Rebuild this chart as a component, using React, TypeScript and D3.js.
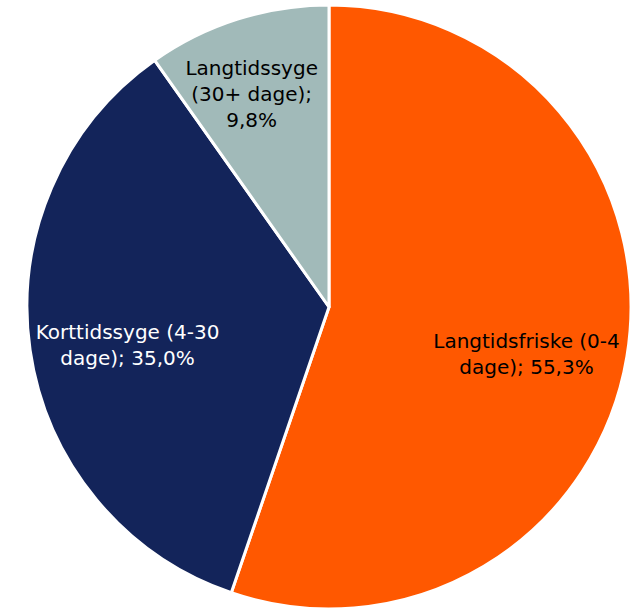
import React from 'react';
import * as d3 from 'd3';

const categories = ['Langtidsfriske (0-4 dage)', 'Korttidssyge (4-30 dage)', 'Langtidssyge (30+ dage)'];
const values = [55.3, 35.0, 9.8];
const labelLines = [
  ['Langtidsfriske (0-4', 'dage); 55,3%'],
  ['Korttidssyge (4-30', 'dage); 35,0%'],
  ['Langtidssyge', '(30+ dage);', '9,8%'],
];
const colors = ['#FF5800', '#13245A', '#A1BAB9'];
const textColors = ['#000000', '#FFFFFF', '#000000'];

// label placement tweaks (radius, angle shift in degrees), like Excel's best-fit
const labelRadius = [203, 205, 227];
const labelShift = [3.9, -2.5, -2.3];

const width = 641;
const height = 610;
const cx = 329;
const cy = 307;
const radius = 302;

export default function App() {
  const pie = d3.pie<number>().sort(null).value((d) => d);
  const arcs = pie(values);
  const arc = d3.arc<d3.PieArcDatum<number>>().innerRadius(0).outerRadius(radius);
  const lineH = 26;

  return (
    <svg width={width} height={height} style={{ position: 'absolute', left: 0, top: 0 }}>
      <g transform={`translate(${cx},${cy})`}>
        {arcs.map((a, i) => (
          <path key={categories[i]} d={arc(a) || ''} fill={colors[i]} stroke="#fff" strokeWidth={3} strokeLinejoin="round" />
        ))}
        {arcs.map((a, i) => {
          const mid = (a.startAngle + a.endAngle) / 2 + (labelShift[i] * Math.PI) / 180;
          const x = Math.sin(mid) * labelRadius[i];
          const y = -Math.cos(mid) * labelRadius[i];
          const lines = labelLines[i];
          const y0 = y - ((lines.length - 1) * lineH) / 2;
          return (
            <text key={'l' + i} x={x} y={y0} textAnchor="middle" dominantBaseline="central"
              fontFamily="DejaVu Sans, Verdana, sans-serif" fontSize={20} fill={textColors[i]}>
              {lines.map((t, j) => (
                <tspan key={j} x={x} y={y0 + j * lineH}>{t}</tspan>
              ))}
            </text>
          );
        })}
      </g>
    </svg>
  );
}
